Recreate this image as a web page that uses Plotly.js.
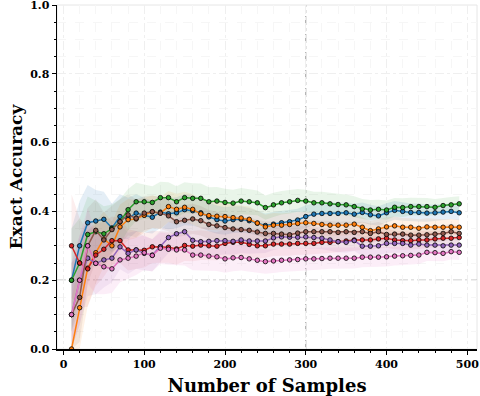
<!DOCTYPE html>
<html>
<head>
<meta charset="utf-8">
<script src="https://cdn.plot.ly/plotly-3.0.1.min.js"></script>
<style>
  html, body { margin: 0; padding: 0; background: white; }
  #chart { width: 480px; height: 396px; }
</style>
</head>
<body>
<div id="chart"></div>
<script>
// sample counts on the x axis
const samples = [10, 20, 30, 40, 50, 60, 70, 80, 90, 100,
    110, 120, 130, 140, 150, 160, 170, 180, 190, 200,
    210, 220, 230, 240, 250, 260, 270, 280, 290, 300,
    310, 320, 330, 340, 350, 360, 370, 380, 390, 400,
    410, 420, 430, 440, 450, 460, 470, 480, 490];

// accuracy curves
const blueAcc = [0.20, 0.30, 0.367, 0.372, 0.377, 0.352, 0.385, 0.380, 0.395, 0.389,
    0.383, 0.398, 0.393, 0.396, 0.405, 0.402, 0.396, 0.384, 0.376, 0.372,
    0.376, 0.377, 0.373, 0.366, 0.359, 0.363, 0.367, 0.370, 0.375, 0.385,
    0.392, 0.394, 0.394, 0.394, 0.396, 0.392, 0.397, 0.390, 0.387, 0.396,
    0.403, 0.400, 0.397, 0.397, 0.395, 0.396, 0.398, 0.400, 0.396];
const orangeAcc = [0.00, 0.12, 0.235, 0.28, 0.32, 0.30, 0.355, 0.376, 0.378, 0.389,
    0.399, 0.395, 0.414, 0.406, 0.412, 0.406, 0.393, 0.388, 0.386, 0.385,
    0.382, 0.381, 0.377, 0.366, 0.355, 0.360, 0.360, 0.362, 0.365, 0.367,
    0.365, 0.362, 0.360, 0.360, 0.360, 0.363, 0.354, 0.344, 0.349, 0.355,
    0.358, 0.354, 0.354, 0.351, 0.355, 0.354, 0.354, 0.355, 0.354];
const greenAcc = [0.20, 0.25, 0.333, 0.341, 0.335, 0.350, 0.370, 0.405, 0.428, 0.428,
    0.426, 0.440, 0.440, 0.428, 0.440, 0.438, 0.438, 0.428, 0.430, 0.426,
    0.424, 0.430, 0.428, 0.425, 0.411, 0.419, 0.425, 0.428, 0.432, 0.430,
    0.425, 0.425, 0.422, 0.420, 0.419, 0.414, 0.407, 0.404, 0.406, 0.404,
    0.412, 0.411, 0.414, 0.414, 0.414, 0.412, 0.417, 0.419, 0.422];
const redAcc = [0.30, 0.25, 0.233, 0.273, 0.290, 0.315, 0.315, 0.288, 0.288, 0.287,
    0.297, 0.297, 0.296, 0.291, 0.301, 0.299, 0.302, 0.300, 0.299, 0.307,
    0.310, 0.310, 0.304, 0.300, 0.300, 0.305, 0.305, 0.305, 0.307, 0.307,
    0.307, 0.310, 0.310, 0.312, 0.314, 0.317, 0.317, 0.317, 0.320, 0.322,
    0.317, 0.315, 0.315, 0.317, 0.317, 0.320, 0.322, 0.322, 0.324];
const purpleAcc = [0.10, 0.20, 0.264, 0.249, 0.259, 0.264, 0.297, 0.278, 0.288, 0.278,
    0.273, 0.297, 0.324, 0.335, 0.341, 0.316, 0.312, 0.313, 0.315, 0.315,
    0.313, 0.317, 0.314, 0.314, 0.314, 0.323, 0.326, 0.325, 0.325, 0.326,
    0.324, 0.322, 0.317, 0.312, 0.310, 0.315, 0.299, 0.299, 0.300, 0.307,
    0.307, 0.307, 0.302, 0.305, 0.302, 0.302, 0.300, 0.302, 0.302];
const brownAcc = [0.10, 0.15, 0.30, 0.345, 0.317, 0.347, 0.370, 0.390, 0.380, 0.395,
    0.399, 0.395, 0.387, 0.370, 0.374, 0.378, 0.373, 0.362, 0.358, 0.353,
    0.349, 0.347, 0.345, 0.340, 0.336, 0.336, 0.334, 0.332, 0.337, 0.341,
    0.341, 0.341, 0.341, 0.339, 0.341, 0.339, 0.341, 0.336, 0.341, 0.333,
    0.334, 0.334, 0.331, 0.331, 0.332, 0.334, 0.336, 0.341, 0.336];
const pinkAcc = [0.10, 0.20, 0.30, 0.249, 0.239, 0.233, 0.259, 0.264, 0.270, 0.280,
    0.272, 0.293, 0.290, 0.288, 0.288, 0.273, 0.273, 0.270, 0.268, 0.262,
    0.265, 0.266, 0.262, 0.258, 0.254, 0.256, 0.258, 0.259, 0.260, 0.262,
    0.262, 0.263, 0.264, 0.264, 0.264, 0.264, 0.267, 0.267, 0.267, 0.268,
    0.270, 0.271, 0.272, 0.273, 0.281, 0.280, 0.278, 0.283, 0.281];

// half width of the shaded bands
const bandHalf = [0.15, 0.13, 0.11, 0.09, 0.08, 0.07, 0.065, 0.06, 0.055, 0.05,
    0.047, 0.046, 0.045, 0.045, 0.045, 0.044, 0.043, 0.042, 0.041, 0.040,
    0.039, 0.038, 0.037, 0.036, 0.035, 0.035, 0.034, 0.034, 0.033, 0.033,
    0.032, 0.032, 0.031, 0.031, 0.030, 0.030, 0.029, 0.029, 0.028, 0.028,
    0.027, 0.027, 0.026, 0.026, 0.025, 0.024, 0.023, 0.023, 0.022];

const series = [
    {y: blueAcc, color: '#1f77b4', fill: 'rgba(31,119,180,0.12)'},
    {y: orangeAcc, color: '#ff7f0e', fill: 'rgba(255,127,14,0.10)'},
    {y: greenAcc, color: '#2ca02c', fill: 'rgba(44,160,44,0.10)'},
    {y: redAcc, color: '#d62728', fill: 'rgba(214,39,40,0.08)'},
    {y: purpleAcc, color: '#9467bd', fill: 'rgba(148,103,189,0.10)'},
    {y: brownAcc, color: '#8c564b', fill: 'rgba(140,86,75,0.10)'},
    {y: pinkAcc, color: '#e377c2', fill: 'rgba(227,119,194,0.12)'}
];

const refX = 300;
const refY = 0.2;

const traces = [];

// bands first so the lines sit on top
series.forEach(s => {
    const upper = s.y.map((v, i) => v + bandHalf[i]);
    const lower = s.y.map((v, i) => Math.max(0, v - bandHalf[i]));
    traces.push({
        x: [...samples, ...samples.slice().reverse()],
        y: [...upper, ...lower.slice().reverse()],
        type: 'scatter',
        mode: 'lines',
        fill: 'toself',
        fillcolor: s.fill,
        line: {color: 'rgba(0,0,0,0)', width: 0},
        hoverinfo: 'skip',
        showlegend: false
    });
});

series.forEach(s => {
    traces.push({
        x: samples,
        y: s.y,
        type: 'scatter',
        mode: 'lines+markers',
        line: {color: s.color, width: 1.5},
        marker: {size: 4.5, color: s.color, line: {color: 'black', width: 0.8}},
        showlegend: false
    });
});

const tickFont = {family: 'DejaVu Serif', size: 11, color: 'black', weight: 'bold'};
const titleFont = {family: 'DejaVu Serif', size: 18, color: 'black', weight: 'bold'};

const layout = {
    width: 480,
    height: 396,
    margin: {l: 57, r: 3, t: 5, b: 47},
    paper_bgcolor: 'white',
    plot_bgcolor: 'white',
    showlegend: false,
    xaxis: {
        range: [-8, 512],
        tickvals: [0, 100, 200, 300, 400, 500],
        ticks: 'outside',
        ticklen: 4,
        tickcolor: 'black',
        ticklabeloverflow: 'allow',
        showline: true,
        linecolor: 'black',
        linewidth: 1.5,
        zeroline: false,
        showgrid: true,
        gridcolor: '#efefef',
        griddash: 'dashdot',
        minor: {dtick: 20, tick0: 0, ticks: 'outside', ticklen: 2, tickcolor: 'black',
            showgrid: true, gridcolor: '#f6f6f6', griddash: 'dash'},
        tickfont: tickFont,
        title: {text: 'Number of Samples', font: titleFont, standoff: 13}
    },
    yaxis: {
        range: [0, 1],
        tickvals: [0, 0.2, 0.4, 0.6, 0.8, 1.0],
        tickformat: '.1f',
        ticks: 'outside',
        ticklen: 4,
        tickcolor: 'black',
        ticklabeloverflow: 'allow',
        showline: true,
        linecolor: 'black',
        linewidth: 1.5,
        zeroline: false,
        showgrid: true,
        gridcolor: '#efefef',
        griddash: 'dashdot',
        minor: {dtick: 0.05, tick0: 0, ticks: 'outside', ticklen: 2, tickcolor: 'black',
            showgrid: true, gridcolor: '#f6f6f6', griddash: 'dash'},
        tickfont: tickFont,
        title: {text: 'Exact Accuracy', font: {...titleFont, size: 17}, standoff: 3}
    },
    shapes: [
        {type: 'rect', xref: 'paper', yref: 'paper', x0: 0, x1: 1, y0: 0, y1: 1,
            line: {color: '#e6e6e6', width: 1}, layer: 'below'},
        {type: 'line', xref: 'x', yref: 'paper', x0: refX, x1: refX, y0: 0, y1: 1,
            line: {color: '#9a9a9a', width: 1, dash: 'dashdot'}, layer: 'below'},
        {type: 'line', xref: 'paper', yref: 'y', x0: 0, x1: 1, y0: refY, y1: refY,
            line: {color: '#9a9a9a', width: 1, dash: 'dashdot'}, layer: 'below'}
    ]
};

Plotly.newPlot('chart', traces, layout, {displayModeBar: false, staticPlot: true});
</script>
</body>
</html>
